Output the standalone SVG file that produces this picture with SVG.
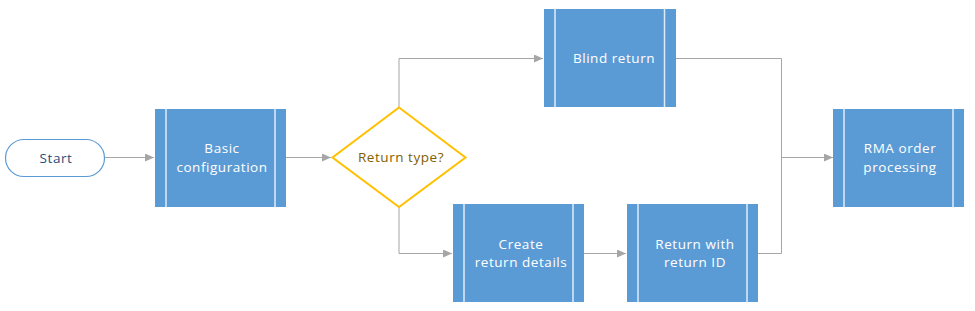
<svg xmlns="http://www.w3.org/2000/svg" width="975" height="311" viewBox="0 0 975 311">
<defs>
<marker id="arr" markerWidth="10" markerHeight="8" refX="9" refY="4" orient="auto" markerUnits="userSpaceOnUse">
<path d="M0,0 L9,4 L0,8 Z" fill="#A6A6A6"/>
</marker>
<style>
.proc{fill:#5B9BD5;}
.bar{stroke:#DDEBF7;stroke-width:1.5;}
.t{font-family:"Open Sans","Noto Sans",sans-serif;font-size:13.5px;letter-spacing:0.55px;text-anchor:middle;fill:#FFFFFF;}
.conn{fill:none;stroke:#A6A6A6;stroke-width:1;}
</style>
</defs>
<rect width="975" height="311" fill="#FFFFFF"/>
<g id="connectors">
<path class="conn" d="M105,157.5 H154" marker-end="url(#arr)"/>
<path class="conn" d="M286,157.5 H331" marker-end="url(#arr)"/>
<path class="conn" d="M399,107 V58.5 H543" marker-end="url(#arr)"/>
<path class="conn" d="M399,207 V253.5 H452" marker-end="url(#arr)"/>
<path class="conn" d="M584,253.5 H626" marker-end="url(#arr)"/>
<path class="conn" d="M676,58.5 H781.5 V253.5 H758"/>
<path class="conn" d="M781.5,157.5 H833" marker-end="url(#arr)"/>
</g>
<g id="start">
<rect x="5.5" y="139.5" width="99" height="37" rx="18.5" fill="#FFFFFF" stroke="#5B9BD5" stroke-width="1.2"/>
<text class="t" x="56" y="162.5" style="fill:#1F4E79">Start</text>
</g>
<g id="basic">
<rect class="proc" x="155" y="109" width="131" height="98"/>
<line class="bar" x1="166" y1="109" x2="166" y2="207"/>
<line class="bar" x1="275" y1="109" x2="275" y2="207"/>
<text class="t" x="222" y="153">Basic</text>
<text class="t" x="222" y="172">configuration</text>
</g>
<g id="decision">
<polygon points="399,107.5 465.5,157.5 399,207 332.5,157.5" fill="#FFFFFF" stroke="#FFC000" stroke-width="2"/>
<text class="t" x="401" y="162" style="fill:#7F6000">Return type?</text>
</g>
<g id="blind">
<rect class="proc" x="544" y="9" width="132" height="98"/>
<line class="bar" x1="555" y1="9" x2="555" y2="107"/>
<line class="bar" x1="664.5" y1="9" x2="664.5" y2="107"/>
<text class="t" x="614" y="62.5">Blind return</text>
</g>
<g id="create">
<rect class="proc" x="453" y="204" width="131" height="98"/>
<line class="bar" x1="464" y1="204" x2="464" y2="302"/>
<line class="bar" x1="573" y1="204" x2="573" y2="302"/>
<text class="t" x="521" y="249">Create</text>
<text class="t" x="521" y="267">return details</text>
</g>
<g id="returnid">
<rect class="proc" x="627" y="204" width="131" height="98"/>
<line class="bar" x1="638" y1="204" x2="638" y2="302"/>
<line class="bar" x1="747" y1="204" x2="747" y2="302"/>
<text class="t" x="695" y="249">Return with</text>
<text class="t" x="695" y="267">return ID</text>
</g>
<g id="rma">
<rect class="proc" x="833" y="109" width="131" height="98"/>
<line class="bar" x1="844" y1="109" x2="844" y2="207"/>
<line class="bar" x1="953" y1="109" x2="953" y2="207"/>
<text class="t" x="900" y="153">RMA order</text>
<text class="t" x="900" y="172">processing</text>
</g>
</svg>
